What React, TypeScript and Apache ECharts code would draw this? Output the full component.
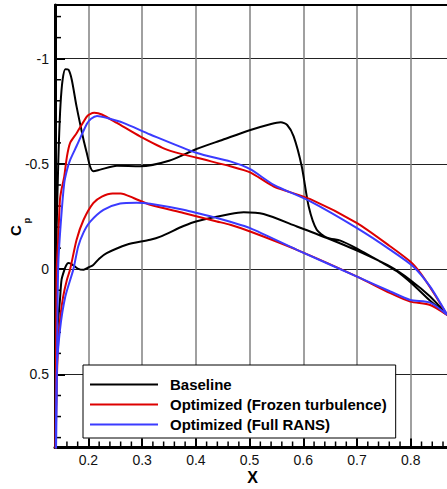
import React, { useEffect, useRef } from "react";
import * as echarts from "echarts";

const FONT = '"Liberation Sans", Arial, Helvetica, sans-serif';

const X_MIN = 0.1378;
const X_MAX = 0.9;
const Y_MIN = -1.255;
const Y_MAX = 0.847;

const xMajorTicks = [0.2, 0.3, 0.4, 0.5, 0.6, 0.7, 0.8];
const yMajorTicks = [-1, -0.5, 0, 0.5];
const xTickValues = [X_MIN, ...xMajorTicks, X_MAX];
const yTickValues = [Y_MIN, ...yMajorTicks, Y_MAX];
const xMinorTicks: number[] = [];
for (let i = 7; i <= 44; i++) if (i % 5 !== 0) xMinorTicks.push(Math.round(i * 2) / 100);
const yMinorTicks: number[] = [];
for (let i = -12; i <= 8; i++) if (i % 5 !== 0) yMinorTicks.push(i / 10);

const seriesNames = ["Baseline", "Optimized (Frozen turbulence)", "Optimized (Full RANS)"];
const seriesColors = ["#000000", "#dd0000", "#3b3bff"];

const baselineUpper = [
  [0.868, 0.218], [0.836, 0.150], [0.805, 0.075], [0.774, 0.010], [0.743, -0.036],
  [0.700, -0.098], [0.669, -0.136], [0.644, -0.150], [0.625, -0.187], [0.610, -0.298],
  [0.597, -0.489], [0.582, -0.631], [0.570, -0.685], [0.558, -0.698], [0.540, -0.690],
  [0.500, -0.660], [0.450, -0.615], [0.400, -0.570], [0.350, -0.515], [0.296, -0.489],
  [0.253, -0.491], [0.222, -0.473], [0.209, -0.465], [0.203, -0.489], [0.197, -0.552],
  [0.191, -0.614], [0.178, -0.772], [0.169, -0.900], [0.163, -0.947], [0.157, -0.950],
  [0.152, -0.900], [0.148, -0.780], [0.145, -0.600], [0.143, -0.420], [0.141, -0.200],
  [0.140, 0.100], [0.139, 0.450], [0.138, 1.000],
];
const baselineLower = [
  [0.140, 0.600], [0.142, 0.300], [0.147, 0.146], [0.150, 0.050], [0.155, 0.005],
  [0.159, -0.020], [0.163, -0.029], [0.170, -0.022], [0.180, -0.003], [0.191, 0.003],
  [0.200, -0.008], [0.209, -0.020], [0.220, -0.050], [0.234, -0.076], [0.271, -0.116],
  [0.315, -0.140], [0.334, -0.155], [0.377, -0.205], [0.402, -0.228], [0.464, -0.262],
  [0.489, -0.270], [0.526, -0.262], [0.588, -0.203], [0.644, -0.148], [0.700, -0.088],
  [0.762, -0.012], [0.799, 0.051], [0.836, 0.130], [0.868, 0.218],
];

const frozenUpper = [
  [0.868, 0.218], [0.843, 0.114], [0.818, 0.019], [0.799, -0.036], [0.762, -0.108],
  [0.700, -0.219], [0.613, -0.333], [0.545, -0.393], [0.501, -0.460], [0.464, -0.489],
  [0.402, -0.529], [0.346, -0.568], [0.296, -0.631], [0.253, -0.695], [0.225, -0.735],
  [0.211, -0.743], [0.203, -0.737], [0.197, -0.725], [0.178, -0.646], [0.166, -0.600],
  [0.160, -0.535], [0.155, -0.440], [0.150, -0.380], [0.147, -0.330], [0.144, -0.155],
  [0.141, 0.000], [0.140, 0.300], [0.139, 0.700], [0.138, 1.000],
];
const frozenLower = [
  [0.141, 0.550], [0.144, 0.337], [0.148, 0.220], [0.153, 0.130], [0.160, 0.050],
  [0.166, 0.000], [0.178, -0.140], [0.191, -0.235], [0.209, -0.314], [0.225, -0.345],
  [0.245, -0.360], [0.260, -0.360], [0.284, -0.338], [0.315, -0.306], [0.377, -0.267],
  [0.439, -0.227], [0.464, -0.211], [0.501, -0.179], [0.588, -0.092], [0.700, 0.035],
  [0.762, 0.114], [0.799, 0.154], [0.836, 0.170], [0.868, 0.218],
];

const ransUpper = [
  [0.868, 0.218], [0.836, 0.083], [0.805, -0.012], [0.762, -0.092], [0.700, -0.195],
  [0.613, -0.322], [0.545, -0.401], [0.501, -0.475], [0.464, -0.512], [0.402, -0.552],
  [0.315, -0.640], [0.265, -0.695], [0.235, -0.718], [0.216, -0.728], [0.205, -0.715],
  [0.197, -0.690], [0.178, -0.585], [0.166, -0.519], [0.160, -0.470], [0.155, -0.409],
  [0.149, -0.234], [0.144, -0.030], [0.142, 0.300], [0.141, 0.600], [0.139, 1.000],
];
const ransLower = [
  [0.141, 0.490], [0.147, 0.289], [0.157, 0.130], [0.172, 0.000], [0.181, -0.108],
  [0.191, -0.175], [0.203, -0.225], [0.228, -0.282], [0.259, -0.312], [0.290, -0.316],
  [0.315, -0.311], [0.377, -0.282], [0.439, -0.243], [0.464, -0.225], [0.501, -0.195],
  [0.588, -0.092], [0.700, 0.035], [0.762, 0.106], [0.799, 0.146], [0.836, 0.159],
  [0.868, 0.218],
];

export default function App() {
  const ref = useRef<HTMLDivElement>(null);
  useEffect(() => {
    if (!ref.current) return;
    const chart = echarts.init(ref.current, null, { renderer: "svg" });
    const labelStyle = { color: "#111", fontSize: 14, fontFamily: FONT };
    const lineIcon = "path://M0,0L68,0L68,2L0,2Z";
    const minorTickStyle = { stroke: "#000", lineWidth: 1.5 };
    chart.setOption({
      animation: false,
      backgroundColor: "#fff",
      tooltip: { show: false },
      axisPointer: { show: false },
      grid: { left: 55, top: 5, width: 409.5, height: 442.5, show: false },
      xAxis: [
        {
          type: "value", min: X_MIN, max: X_MAX,
          axisPointer: { show: false },
          axisLine: { show: true, onZero: false, lineStyle: { color: "#000", width: 3 } },
          axisTick: { show: true, inside: true, length: 9, customValues: xTickValues, lineStyle: { color: "#000", width: 2 } },
          axisLabel: { show: true, customValues: xMajorTicks, margin: 5, ...labelStyle },
          splitLine: { show: true, showMinLine: false, showMaxLine: false, lineStyle: { color: "#808080", width: 1.5 } },
        },
        {
          type: "value", min: X_MIN, max: X_MAX, position: "top",
          axisPointer: { show: false },
          axisLine: { show: true, onZero: false, lineStyle: { color: "#000", width: 2 } },
          axisTick: { show: false }, axisLabel: { show: false }, splitLine: { show: false },
        },
      ],
      yAxis: {
        type: "value", inverse: true, min: Y_MIN, max: Y_MAX,
        axisPointer: { show: false },
        axisLine: { show: true, onZero: false, lineStyle: { color: "#000", width: 3 } },
        axisTick: { show: true, inside: true, length: 10, customValues: yTickValues, lineStyle: { color: "#000", width: 2 } },
        axisLabel: { show: true, customValues: yMajorTicks, margin: 6, ...labelStyle },
        splitLine: { show: true, showMinLine: false, showMaxLine: false, lineStyle: { color: "#222", width: 1 } },
      },
      legend: {
        orient: "vertical", left: 83, top: 365,
        data: seriesNames.map((n, i) => ({ name: n, icon: lineIcon, itemStyle: { color: seriesColors[i] } })),
        itemWidth: 68, itemHeight: 14, itemGap: 5,
        padding: [12, 9, 6, 7],
        backgroundColor: "#fff", borderColor: "#000", borderWidth: 1,
        textStyle: { fontSize: 15, fontWeight: "bold", fontFamily: FONT, color: "#000", padding: [0, 0, 0, 7] },
      },
      graphic: [
        { type: "text", x: 15.5, y: 230.5, rotation: Math.PI / 2, z: 100,
          style: { text: "C", font: `bold 15px ${FONT}`, fill: "#000", textAlign: "center", textVerticalAlign: "middle" } },
        { type: "text", x: 27, y: 220.5, rotation: Math.PI / 2, z: 100,
          style: { text: "p", font: `bold 9px ${FONT}`, fill: "#000", textAlign: "center", textVerticalAlign: "middle" } },
        { type: "text", x: 252.5, y: 477, z: 100,
          style: { text: "X", font: `bold 16px ${FONT}`, fill: "#000", textAlign: "center", textVerticalAlign: "middle" } },
      ],
      series: [
        { name: "xMinorTicks", type: "custom", silent: true, clip: false, z: 3,
          data: xMinorTicks.map((v) => [v, Y_MAX]),
          renderItem: (_p: any, api: any) => {
            const c = api.coord([api.value(0), api.value(1)]);
            return { type: "line", shape: { x1: c[0], y1: c[1], x2: c[0], y2: c[1] - 6 }, style: minorTickStyle };
          } },
        { name: "yMinorTicks", type: "custom", silent: true, clip: false, z: 3,
          data: yMinorTicks.map((v) => [X_MIN, v]),
          renderItem: (_p: any, api: any) => {
            const c = api.coord([api.value(0), api.value(1)]);
            return { type: "line", shape: { x1: c[0], y1: c[1], x2: c[0] + 6, y2: c[1] }, style: minorTickStyle };
          } },
        { name: seriesNames[0], type: "line", data: [...baselineUpper, ...baselineLower], silent: true,
          symbol: "none", smooth: 0.25, lineStyle: { color: seriesColors[0], width: 2 }, itemStyle: { color: seriesColors[0] } },
        { name: seriesNames[1], type: "line", data: [...frozenUpper, ...frozenLower], silent: true,
          symbol: "none", smooth: 0.25, lineStyle: { color: seriesColors[1], width: 2 }, itemStyle: { color: seriesColors[1] } },
        { name: seriesNames[2], type: "line", data: [...ransUpper, ...ransLower], silent: true,
          symbol: "none", smooth: 0.25, lineStyle: { color: seriesColors[2], width: 2 }, itemStyle: { color: seriesColors[2] } },
      ],
    });
    return () => chart.dispose();
  }, []);
  return (
    <div style={{ position: "absolute", left: 0, top: 0, width: 447, height: 489, overflow: "hidden", background: "#fff" }}>
      <div ref={ref} style={{ width: 480, height: 489 }} />
    </div>
  );
}
